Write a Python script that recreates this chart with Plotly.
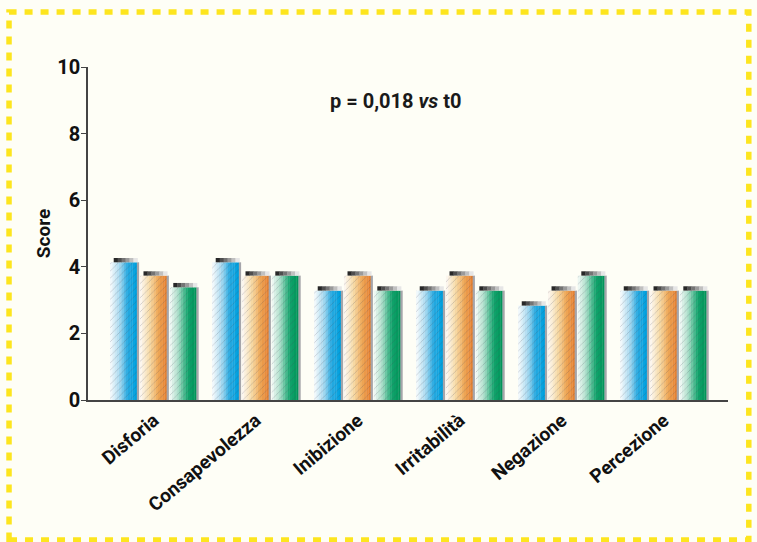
import plotly.graph_objects as go

# Categories and scores for the three time points
categories = ["Disforia", "Consapevolezza", "Inibizione", "Irritabilità", "Negazione", "Percezione"]
series_names = ["t0", "t1", "t2"]
scores_t0 = [4.2, 4.2, 3.35, 3.35, 2.9, 3.35]
scores_t1 = [3.8, 3.8, 3.8, 3.8, 3.35, 3.35]
scores_t2 = [3.45, 3.8, 3.35, 3.35, 3.8, 3.35]
y_ticks = [0, 2, 4, 6, 8, 10]
annotation_text = "p = 0,018 <i>vs</i> t0"

series_values = [scores_t0, scores_t1, scores_t2]
# light (left) -> saturated (right) colour stops for each cylinder-like bar
gradients = [
    [(240, 248, 252), (170, 218, 240), (40, 170, 225), (0, 160, 222)],
    [(252, 246, 238), (247, 220, 170), (239, 172, 92), (230, 130, 50)],
    [(236, 247, 242), (160, 218, 195), (20, 165, 110), (0, 150, 90)],
]

FONT = "Liberation Sans Narrow, Roboto, sans-serif"
CAP = 0.13          # height of the dark rim on top of each bar
SLOT = 0.292        # horizontal pitch of the bars inside a group
BODY_W = 0.262
SHADOW_W = 0.022
N_SLICES = 12
N_CAP = 6


def lerp_stops(stops, t):
    n = len(stops) - 1
    pos = min(max(t, 0.0), 1.0) * n
    i = min(int(pos), n - 1)
    f = pos - i
    a, b = stops[i], stops[i + 1]
    return tuple(round(a[k] + (b[k] - a[k]) * f) for k in range(3))


fig = go.Figure()

for s, (name, vals, stops) in enumerate(zip(series_names, series_values, gradients)):
    left = -0.43 + s * SLOT
    body = [v - CAP / 2 for v in vals]
    sw = BODY_W / N_SLICES
    # body of the bar, built from narrow vertical slices forming a gradient
    for k in range(N_SLICES):
        r, g, b = lerp_stops(stops, k / (N_SLICES - 1))
        fig.add_trace(go.Bar(
            x=categories, y=body, name=name, showlegend=False,
            offset=left + k * sw, width=sw * 1.15,
            marker=dict(
                color=f"rgb({r},{g},{b})", line=dict(width=0),
                pattern=dict(shape="/", size=5, solidity=0.15,
                             fgcolor="rgba(70,70,90,0.55)", fillmode="overlay"),
            ),
            hoverinfo="skip",
        ))
    # grey shading along the right edge
    fig.add_trace(go.Bar(
        x=categories, y=body, showlegend=False,
        offset=left + BODY_W, width=SHADOW_W,
        marker=dict(color="rgb(165,165,170)", line=dict(width=0)),
        hoverinfo="skip",
    ))
    # dark rim on top (dark on the left fading to light grey)
    cw = (BODY_W - 0.03) / N_CAP
    for k in range(N_CAP):
        t = k / (N_CAP - 1)
        c = round(40 + (230 - 40) * t)
        fig.add_trace(go.Bar(
            x=categories, y=[CAP] * len(vals), base=body, showlegend=False,
            offset=left + 0.035 + k * cw, width=cw * 1.1,
            marker=dict(color=f"rgb({c},{c},{c})", line=dict(width=0)),
            hoverinfo="skip",
        ))

fig.add_annotation(
    text=annotation_text, xref="paper", yref="paper", x=0.481, y=0.94,
    showarrow=False, font=dict(family=FONT, size=20, color="#1a1a1a", weight="bold"),
)

# yellow dotted frame around the figure
fig.add_shape(
    type="rect", xref="paper", yref="paper",
    x0=-0.1234, x1=1.0325, y0=-0.4204, y1=1.1652,
    line=dict(color="#FDE51E", width=5.5, dash="8px,8px"),
    layer="below",
)

fig.update_layout(
    width=757, height=542,
    margin=dict(l=88, r=29, t=67, b=142),
    paper_bgcolor="#FEFEF6", plot_bgcolor="#FEFEF6",
    barmode="overlay", showlegend=False,
    font=dict(family=FONT, color="#1a1a1a"),
    xaxis=dict(
        type="category", range=[-0.647, 5.627],
        showline=True, linecolor="#444", linewidth=2,
        ticks="", showgrid=False, tickangle=-40,
        tickfont=dict(family=FONT, size=19, color="#111", weight="bold"),
    ),
    yaxis=dict(
        range=[0, 10], tickvals=y_ticks, ticks="outside", ticklen=5,
        tickcolor="#444", showline=True, linecolor="#444", linewidth=1.5,
        showgrid=False, zeroline=False, ticklabelstandoff=-3,
        tickfont=dict(family=FONT, size=20, color="#111", weight="bold"),
        title=dict(text="Score", standoff=2,
                   font=dict(family=FONT, size=19, color="#111", weight="bold")),
    ),
)

fig.write_html("out.html")
